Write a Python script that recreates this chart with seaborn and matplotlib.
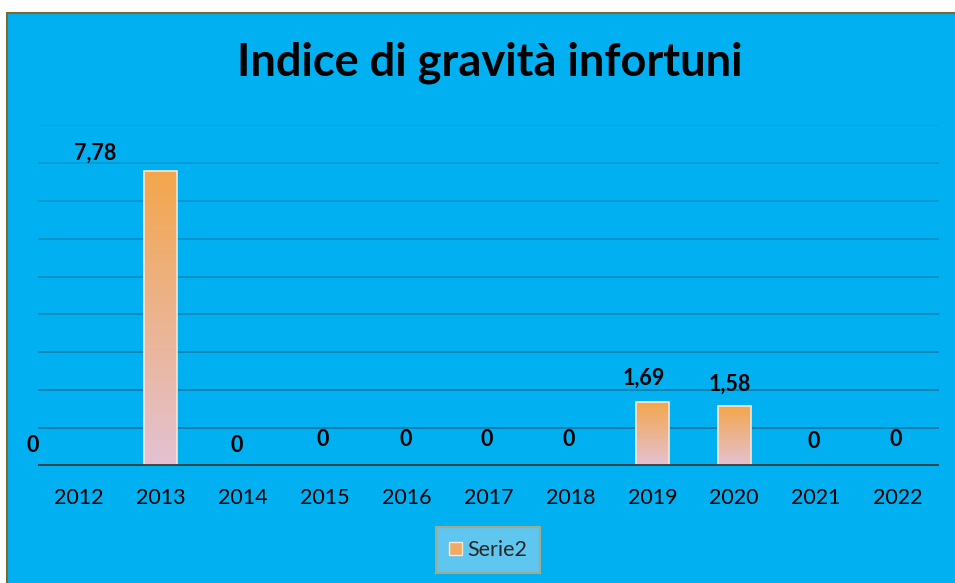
import numpy as np
import pandas as pd
import matplotlib
matplotlib.use('Agg')
import matplotlib.pyplot as plt
import seaborn as sns
from matplotlib.colors import LinearSegmentedColormap
from matplotlib.patches import Rectangle, Patch

# dati
anni = ['2012', '2013', '2014', '2015', '2016', '2017', '2018', '2019', '2020', '2021', '2022']
indice = [0, 7.78, 0, 0, 0, 0, 0, 1.69, 1.58, 0, 0]
etichette = ['0', '7,78', '0', '0', '0', '0', '0', '1,69', '1,58', '0', '0']

# spostamento etichette (pixel) come nel grafico originale
dx_lab = [-46, -66, -6, -2, -1, -2, -2, -9, -4, -2, -2]
dy_lab = [20, 18, 20, 26, 26, 26, 26, 24, 22, 24, 26]

df = pd.DataFrame({'anno': anni, 'valore': indice})

sns.set_theme(style='white')
plt.rcParams['font.family'] = ['Lato', 'DejaVu Sans']

fig = plt.figure(figsize=(9.55, 5.83), dpi=100)
fig.patch.set_facecolor('white')
# sfondo blu con bordo
fig.patches.append(Rectangle((7 / 955, -0.02), 1.05, 1 - 13 / 583 + 0.02,
                             transform=fig.transFigure, facecolor='#00b0f0',
                             edgecolor='#7a6a2c', linewidth=1.5, zorder=-5))

ax = fig.add_axes([38 / 955, 1 - 466 / 583, 901 / 955, (466 - 125) / 583])
ax.set_facecolor('none')

sns.barplot(data=df, x='anno', y='valore', ax=ax, width=0.4,
            color='#f4a84c', edgecolor='#fbe6d2', linewidth=1.2, zorder=3)

# griglia
for k in range(1, 10):
    a = 0.95 - 0.08 * k
    ax.axhline(k, color='#17709a', alpha=a, linewidth=1.3, zorder=1)
ax.axhline(0, color='#404040', linewidth=3.5, zorder=4)

# riempimento sfumato delle barre
cmap = LinearSegmentedColormap.from_list('sfum', ['#e4c2d4', '#f3a64b'])
grad = np.linspace(0, 1, 256).reshape(-1, 1)
for p in list(ax.patches):
    h = p.get_height()
    if h <= 0:
        continue
    x0 = p.get_x()
    w = p.get_width()
    im = ax.imshow(grad, cmap=cmap, origin='lower', aspect='auto',
                   extent=[x0, x0 + w, 0, h], zorder=3)
    im.set_clip_path(p)
    p.set_facecolor('none')
    p.set_zorder(3.5)
ax.set_ylim(0, 9)
ax.set_xlim(-0.5, len(anni) - 0.5)

# etichette valori
for i, (v, t) in enumerate(zip(indice, etichette)):
    ax.annotate(t, (i, v), xytext=(dx_lab[i] * 0.72, dy_lab[i] * 0.72),
                textcoords='offset points', ha='center', va='center',
                fontsize=15.5, fontweight='bold', color='black', zorder=6)

ax.set_xlabel('')
ax.set_ylabel('')
ax.set_yticks([])
ax.tick_params(axis='x', length=0, labelsize=15.5, pad=16, colors='black')
for s in ax.spines.values():
    s.set_visible(False)

fig.text(0.513, 1 - 63 / 583, 'Indice di gravità infortuni', ha='center', va='center',
         fontsize=32.5, fontweight='bold', color='black')

leg = fig.legend(handles=[Patch(facecolor='#f0aa66', edgecolor='#fbe6d2', label='Serie2')],
                 loc='center', bbox_to_anchor=(0.511, 1 - 550 / 583), frameon=True,
                 fancybox=False, fontsize=15.5, handlelength=0.6, handleheight=0.6,
                 handletextpad=0.25, borderpad=0.6)
leg.get_frame().set_facecolor('#5ec6ef')
leg.get_frame().set_edgecolor('#a3a98a')
leg.get_frame().set_linewidth(1.5)
leg.get_frame().set_alpha(1)

fig.savefig('out.png', dpi=100)
